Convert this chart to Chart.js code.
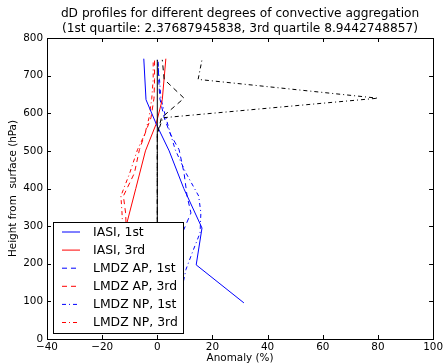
<!DOCTYPE html>
<html>
<head>
<meta charset="utf-8">
<script src="https://cdn.jsdelivr.net/npm/chart.js@4/dist/chart.umd.min.js"></script>
<style>
  html, body { margin: 0; padding: 0; background: #fff; }
  #wrap { width: 445px; height: 364px; position: relative; }
</style>
</head>
<body>
<div id="wrap"><canvas id="c"></canvas></div>
<script>
// Pressure levels (hPa above surface) of each data source
const iasiLevels = [96, 197, 295, 400, 500, 570, 636, 745];
const lmdzLevels = [96, 140, 185, 230, 282, 335, 380, 441, 503, 545, 588, 640, 690, 742];

// dD anomaly profiles (%)
const iasi1st   = [31.4, 14.1, 16.2, 9.6, 4.3, -0.3, -4.1, -4.9];
const iasi3rd   = [-7.5, -9.5, -11.5, -7.8, -4.3, -0.5, 1.8, 3.1];
const lmdzAp1st = [8.8, 9.0, 9.0, 9.0, 9.1, 12.2, 10.8, 9.7, 7.9, 4.7, 2.5, 0.9, 0.5, 0.3];
const lmdzAp3rd = [-9.5, -10.0, -10.5, -11.0, -11.2, -11.5, -12.3, -8.3, -6.5, -4.5, -2.3, -1.2, -1.0, -1.0];
const lmdzNp1st = [8.8, 9.1, 10.4, 12.7, 15.5, 15.8, 15.0, 10.4, 6.5, 4.8, 3.1, 1.3, 0.8, 0.0];
const lmdzNp3rd = [-10.5, -11.0, -11.5, -12.0, -12.5, -12.8, -13.2, -10.0, -7.2, -4.5, -3.0, -2.0, -1.5, -1.5];

// Unlabelled black profiles: zero reference, AP and NP differences
const zeroRef   = [0, 0, 0, 0, 0, 0, 0, 0, 0, 0, 0, 0, 0, 0];
const diffAp    = [0, 0, 0, 0, 0, 0, 0, 0, 0, 0, 1.5, 9.7, 2.5, 1.8];
const diffNp    = [0, 0, 0, 0, 0, 0, 0, 0, 0, 0, 2.0, 80.0, 14.8, 16.2];

// Axis ticks
const xTicks = [-40, -20, 0, 20, 40, 60, 80, 100];
const yTicks = [0, 100, 200, 300, 400, 500, 600, 700, 800];

const titleLines = [
  'dD profiles for different degrees of convective aggregation',
  '(1st quartile: 2.37687945838, 3rd quartile 8.9442748857)'
];
const xTitle = 'Anomaly (%)';
const yTitle = 'Height from  surface (hPa)';

const FONT = '"DejaVu Sans", "Liberation Sans", sans-serif';
const DASH = [5, 4];
const DASHDOT = [4, 3, 1, 3];

function profile(values, levels) {
  return values.map((v, i) => ({ x: v, y: levels[i] }));
}

function series(label, values, levels, color, dash, inLegend) {
  return {
    label,
    data: profile(values, levels),
    borderColor: color,
    borderDash: dash,
    borderWidth: 1,
    pointRadius: 0,
    showLine: true,
    fill: false,
    tension: 0,
    inLegend
  };
}

const datasets = [
  series('zero', zeroRef, lmdzLevels, '#000000', [], false),
  series('AP diff', diffAp, lmdzLevels, '#000000', DASH, false),
  series('NP diff', diffNp, lmdzLevels, '#000000', DASHDOT, false),
  series('IASI, 1st', iasi1st, iasiLevels, '#0000ff', [], true),
  series('IASI, 3rd', iasi3rd, iasiLevels, '#ff0000', [], true),
  series('LMDZ AP, 1st', lmdzAp1st, lmdzLevels, '#0000ff', DASH, true),
  series('LMDZ AP, 3rd', lmdzAp3rd, lmdzLevels, '#ff0000', DASH, true),
  series('LMDZ NP, 1st', lmdzNp1st, lmdzLevels, '#0000ff', DASHDOT, true),
  series('LMDZ NP, 3rd', lmdzNp3rd, lmdzLevels, '#ff0000', DASHDOT, true)
];

function fmt(v) {
  return v < 0 ? '\u2212' + Math.abs(v) : String(v);
}

// Frame, inward tick marks, boxed legend and all free text
const decorations = {
  id: 'decorations',
  afterDatasetsDraw(chart) {
    const ctx = chart.ctx;
    const a = chart.chartArea;
    const xs = chart.scales.x, ys = chart.scales.y;
    ctx.save();
    ctx.strokeStyle = '#000';
    ctx.lineWidth = 1;
    ctx.setLineDash([]);
    // inward ticks on all four sides
    const TL = 4;
    ctx.beginPath();
    xTicks.forEach(v => {
      const px = Math.round(xs.getPixelForValue(v)) + 0.5;
      ctx.moveTo(px, a.bottom); ctx.lineTo(px, a.bottom - TL);
      ctx.moveTo(px, a.top); ctx.lineTo(px, a.top + TL);
    });
    yTicks.forEach(v => {
      const py = Math.round(ys.getPixelForValue(v)) + 0.5;
      ctx.moveTo(a.left, py); ctx.lineTo(a.left + TL, py);
      ctx.moveTo(a.right, py); ctx.lineTo(a.right - TL, py);
    });
    ctx.stroke();
    // frame
    ctx.strokeRect(Math.round(a.left) + 0.5, Math.round(a.top) + 0.5,
                   Math.round(a.right - a.left), Math.round(a.bottom - a.top));

    // legend
    const box = { x: 53, y: 222, w: 130, h: 111 };
    ctx.fillStyle = '#fff';
    ctx.fillRect(box.x, box.y, box.w, box.h);
    ctx.strokeStyle = '#000';
    ctx.strokeRect(box.x + 0.5, box.y + 0.5, box.w, box.h);
    const items = chart.data.datasets.filter(d => d.inLegend);
    ctx.font = '12.4px ' + FONT;
    ctx.textBaseline = 'middle';
    ctx.textAlign = 'left';
    items.forEach((d, i) => {
      const cy = 232 + i * 18.1;
      ctx.beginPath();
      ctx.strokeStyle = d.borderColor;
      ctx.lineWidth = d.borderWidth;
      ctx.setLineDash(d.borderDash);
      ctx.moveTo(62, cy); ctx.lineTo(80, cy);
      ctx.stroke();
      ctx.setLineDash([]);
      ctx.fillStyle = '#000';
      ctx.fillText(d.label, 93, cy + 0.5);
    });
    ctx.restore();
  },
  afterDraw(chart) {
    const ctx = chart.ctx;
    const a = chart.chartArea;
    const cx = (a.left + a.right) / 2;
    ctx.save();
    ctx.fillStyle = '#000';
    ctx.textAlign = 'center';
    ctx.textBaseline = 'middle';
    ctx.font = '12.2px ' + FONT;
    ctx.fillText(titleLines[0], cx, 14);
    ctx.fillText(titleLines[1], cx, 28.5);
    ctx.font = '10.4px ' + FONT;
    ctx.fillText(xTitle, cx, 358);
    ctx.translate(13, (a.top + a.bottom) / 2);
    ctx.rotate(-Math.PI / 2);
    ctx.fillText(yTitle, 0, 0);
    ctx.restore();
  }
};

new Chart(document.getElementById('c'), {
  type: 'scatter',
  data: { datasets },
  plugins: [decorations],
  options: {
    responsive: true,
    maintainAspectRatio: false,
    animation: false,
    events: [],
    layout: { padding: { left: 0, top: 38, right: 10, bottom: 0 } },
    plugins: { legend: { display: false }, title: { display: false }, tooltip: { enabled: false } },
    scales: {
      x: {
        type: 'linear',
        min: -40, max: 100,
        grid: { display: false, drawTicks: false },
        border: { display: false },
        afterBuildTicks: s => { s.ticks = xTicks.map(v => ({ value: v })); },
        afterFit: s => { s.height = 25; },
        ticks: {
          padding: 2,
          color: '#000',
          font: { family: FONT, size: 10.4 },
          maxRotation: 0,
          callback: v => fmt(v)
        }
      },
      y: {
        type: 'linear',
        min: 0, max: 800,
        grid: { display: false, drawTicks: false },
        border: { display: false },
        afterBuildTicks: s => { s.ticks = yTicks.map(v => ({ value: v })); },
        afterFit: s => { s.width = 47; },
        ticks: {
          padding: 4,
          color: '#000',
          font: { family: FONT, size: 10.4 },
          callback: v => fmt(v)
        }
      }
    }
  }
});
</script>
</body>
</html>
